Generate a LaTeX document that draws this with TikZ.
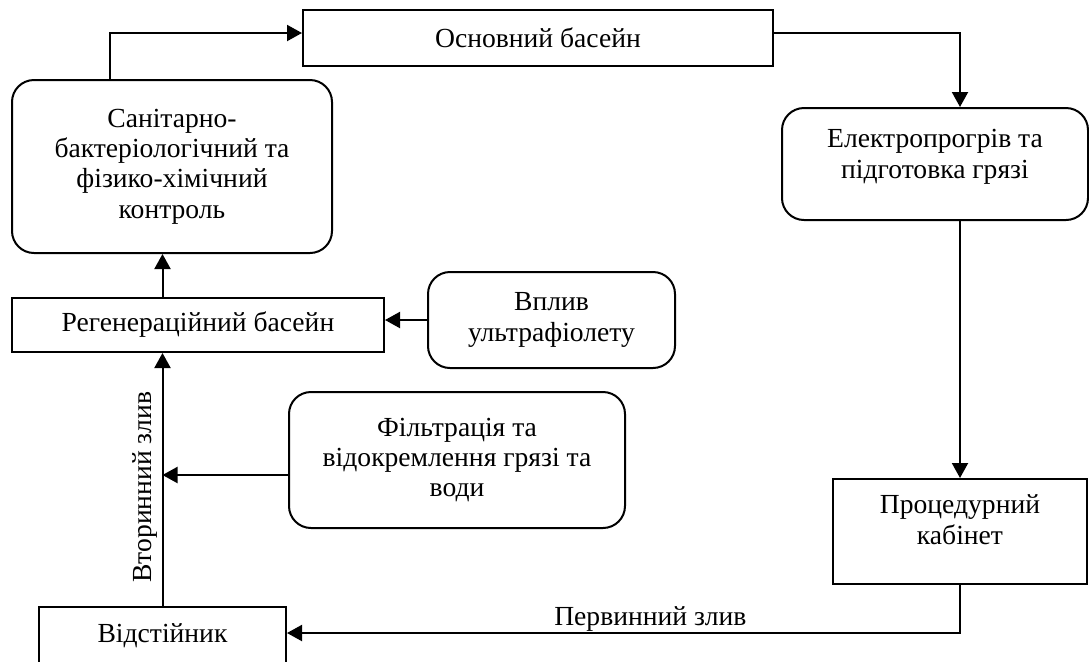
\documentclass[tikz,border=0pt]{standalone}
\usepackage{fontspec}
\setmainfont{Liberation Serif}
\usetikzlibrary{arrows.meta, positioning}

\begin{document}
\begin{tikzpicture}[
    x=0.5pt, y=-0.5pt,
    font=\fontsize{13.8pt}{15.2pt}\selectfont,
    box/.style={rectangle, draw=black, line width=1pt, align=center, inner sep=0pt},
    rbox/.style={box, rounded corners=11pt},
    arrow/.style={-{Triangle[length=7.5pt, width=8pt]}, line width=1pt, draw=black}
]
\useasboundingbox (0,0) rectangle (1089,661);
\node (osn) [box, minimum width=235pt, minimum height=28pt] at (538,38) {Основний басейн};
\node (san) [rbox, minimum width=160pt, minimum height=86.5pt] at (172,166.5) {Санітарно-\\бактеріологічний та\\фізико-хімічний\\контроль};
\node (elec) [rbox, minimum width=153pt, minimum height=56pt, text depth=10pt] at (935,164) {Електропрогрів та\\підготовка грязі};
\node (proc) [box, minimum width=127pt, minimum height=52.5pt, text depth=12pt] at (960,531.5) {Процедурний\\кабінет};
\node (reg) [box, minimum width=186pt, minimum height=27pt] at (198,325) {Регенераційний басейн};
\node (vplyv) [rbox, minimum width=123.5pt, minimum height=48pt] at (551.5,320) {Вплив\\ультрафіолету};
\node (filtr) [rbox, minimum width=168pt, minimum height=68pt] at (457,460) {Фільтрація та\\відокремлення грязі та\\води};
\node (vidst) [box, minimum width=123.5pt, minimum height=29pt] at (162.5,636) {Відстійник};
\coordinate (fout) at ([yshift=-7.5pt]filtr.west);
\draw [arrow] ([xshift=-31pt]san.north) |- ([yshift=2.5pt]osn.west);
\draw [arrow] ([yshift=2.5pt]osn.east) -| ([xshift=12.5pt]elec.north);
\draw [arrow] ([xshift=12.5pt]elec.south) -- (proc.north);
\draw [arrow] (proc.south) |- node[pos=0.73, anchor=base, yshift=4pt] {Первинний злив} ([yshift=1.5pt]vidst.east);
\draw [arrow] (vidst.north) -- node[sloped, above, pos=0.47, inner sep=2pt] {Вторинний злив} (vidst.north |- reg.south);
\draw [arrow] (fout) -- (fout -| vidst.north);
\draw [arrow] (vidst.north |- reg.north) -- (vidst.north |- san.south);
\draw [arrow] (vplyv.west) -- (vplyv.west -| reg.east);
\end{tikzpicture}
\end{document}
